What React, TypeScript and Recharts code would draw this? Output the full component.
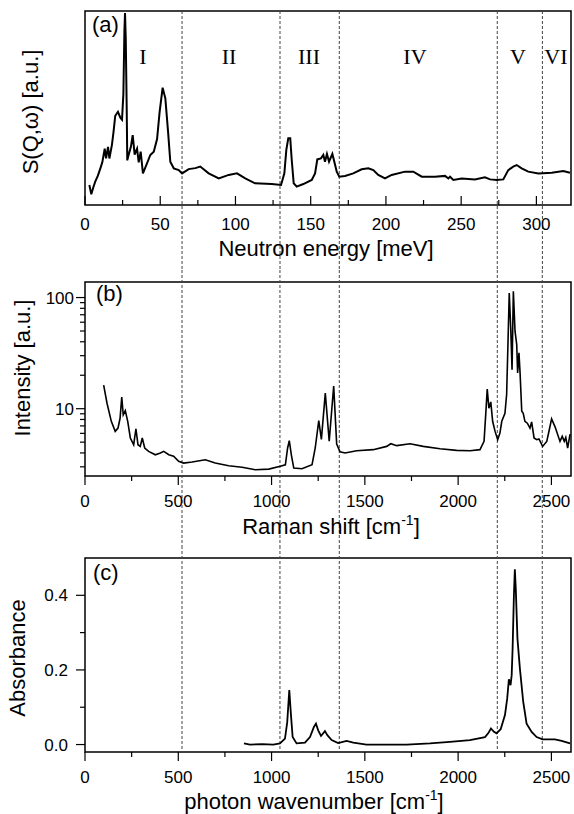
import React from 'react';
import { LineChart, Line, XAxis, YAxis, ReferenceLine, ReferenceArea } from 'recharts';

const SANS = '"Liberation Sans", Arial, sans-serif';
const SERIF = '"Liberation Serif", "Times New Roman", serif';

// (a) neutron spectrum, meV vs S(Q,w) in arbitrary units
const NEUTRON_MEV = [
  2.9, 4.2, 5.5, 6.8, 8.5, 10.2, 11.5, 13.1, 14.0, 15.3, 16.2, 17.9, 19, 20.1, 21.9, 23.5, 24.6, 25.5,
  26.2, 26.6, 27.1, 27.7, 28.1, 29.4, 30.5, 31.7, 33.0, 34.6, 35.7, 37.0, 38.5, 41.2, 43.4, 45.7, 47.9,
  49.6, 51.6, 53.4, 55.2, 56.7, 59.0, 62.3, 64.5, 68.9, 73.3, 76.6, 82.2, 88.9, 95.5, 101, 106.5, 113,
  124.1, 130.3, 132.5, 133.8, 135.1, 136.4, 137.4, 138.7, 140.7, 145.1, 150.7, 152.9, 154.4, 156.8,
  158.4, 159.5, 160.8, 162.2, 164.4, 165.7, 167.3, 169, 172.8, 178.3, 183.9, 188.3, 191.6, 194.9,
  199.4, 203.8, 212.7, 218.2, 223.8, 232.6, 239.3, 241.5, 242.6, 244.8, 250.4, 259.2, 265.8, 269.2,
  273.6, 278, 281.3, 284.6, 286.9, 290.2, 294.6, 301.3, 310.2, 317.9, 322.3,
];
const NEUTRON_S = [
  10.3, 5.5, 9, 12, 15, 18.9, 22, 29, 24, 30, 24, 31, 38, 46, 48, 45, 44, 57,
  90, 99, 85, 51, 23, 27, 30, 36, 26, 29, 22, 27.5, 16.3, 21.5, 25.8, 27.5, 34,
  48, 60.5, 55, 37.8, 22.3, 18.9, 18, 16.3, 18.5, 19, 19.8, 16.3, 13.7, 15.5, 16.3, 13.7, 11.2,
  10.8, 10.3, 16.3, 28.4, 34.4, 34.4, 23.2, 11.2, 9.5, 10.8, 12.9, 16.3, 23.5, 24,
  25.8, 22.3, 26.3, 22.3, 26.3, 22.3, 17.2, 14.6, 15, 16.3, 18.4, 18.9, 18, 15.5,
  13.7, 15.5, 17.2, 17.2, 14.6, 14.6, 15, 13.7, 14.6, 12.9, 13.7, 13.2, 14.3, 13.2,
  12.9, 13.2, 18, 19.8, 20.6, 18.9, 17.2, 16.3, 16.6, 17.5, 16.6,
];

// (b) Raman spectrum, cm-1 vs intensity (log)
const RAMAN_CM = [
  100, 118, 141, 162, 177, 188, 197, 205, 216, 229, 243, 261, 273, 284, 296, 307, 320, 341, 377, 404,
  422, 449, 475, 502, 529, 574, 645, 698, 770, 842, 913, 985, 1047, 1074, 1086, 1095, 1106, 1119, 1163,
  1217, 1234, 1253, 1267, 1288, 1309, 1333, 1349, 1367, 1394, 1456, 1545, 1617, 1639, 1671, 1742, 1813,
  1903, 1992, 2064, 2117, 2139, 2149, 2156, 2165, 2175, 2185, 2198, 2212, 2224, 2234, 2251, 2260, 2267,
  2274, 2282, 2289, 2296, 2305, 2314, 2319, 2326, 2332, 2341, 2349, 2358, 2371, 2385, 2394, 2407, 2421,
  2433, 2453, 2475, 2489, 2501, 2519, 2546, 2558, 2569, 2577, 2587, 2600,
];
const RAMAN_I = [
  16.3, 11.2, 7.7, 6.25, 6.7, 8.2, 12.7, 8.8, 9.6, 7.7, 5.45, 4.74, 6.6, 4.74, 4.58, 5.45, 4.43, 4.13, 3.85, 3.99,
  4.13, 3.85, 3.73, 3.36, 3.24, 3.31, 3.47, 3.24, 3.07, 2.97, 2.82, 2.86, 3.03, 3.13, 4.43, 5.15, 3.85, 2.92, 2.88,
  3.13, 4.43, 7.8, 5.3, 13.8, 5.1, 16, 4.8, 4.1, 3.99, 4.19, 4.28, 4.58, 4.84, 4.65, 4.84, 4.58,
  4.36, 4.22, 4.19, 4.28, 5.08, 9.5, 15, 10.1, 11.5, 7.7, 6.25, 5.26, 6.04, 7.7, 9.1, 13.4, 37.8,
  110, 53, 22.4, 114, 49.8, 37.8, 21, 31.8, 21, 9.5, 9.1, 7.7, 7.4, 6.7, 7.6, 5.45, 5.26,
  5.34, 4.58, 5.08, 6.5, 8.1, 6.9, 5.08, 5.64, 5.08, 5.5, 4.43, 5.9,
];

// (c) IR absorbance
const IR_CM = [
  852, 884, 950, 1009, 1045, 1072, 1084, 1095, 1104, 1113, 1134, 1179, 1206, 1227, 1238, 1250, 1265, 1286,
  1299, 1322, 1357, 1402, 1438, 1509, 1724, 1849, 1956, 2063, 2144, 2161, 2176, 2192, 2206, 2228, 2251,
  2263, 2272, 2281, 2287, 2292, 2299, 2304, 2309, 2318, 2331, 2349, 2367, 2394, 2421, 2453, 2519, 2555, 2600,
];
const IR_ABS = [
  0.003, 0.0, 0.001, 0.0, 0.003, 0.016, 0.06, 0.146, 0.079, 0.02, 0.003, 0.005, 0.02, 0.047, 0.056, 0.038, 0.023, 0.036,
  0.025, 0.012, 0.004, 0.01, 0.005, 0.0, 0.0, 0.003, 0.007, 0.012, 0.02, 0.03, 0.043, 0.034, 0.03, 0.041, 0.079,
  0.123, 0.175, 0.159, 0.186, 0.257, 0.4, 0.47, 0.418, 0.284, 0.204, 0.114, 0.056, 0.034, 0.02, 0.014, 0.014, 0.01, 0.003,
];

// region boundaries and labels
const BOUNDARIES_MEV = [64.5, 129.6, 169, 274, 304];
const BOUNDARIES_CM = [520, 1045, 1363, 2210, 2451];
const REGION_NAMES = ['I', 'II', 'III', 'IV', 'V', 'VI'];
const REGION_POS_MEV = [38.5, 95.7, 148.9, 219.3, 287.8, 313];

// axes
const MEV_DOMAIN = [0, 323];
const CM_DOMAIN = [0, 2605];
const MEV_TICKS = [0, 25, 50, 75, 100, 125, 150, 175, 200, 225, 250, 275, 300];
const MEV_MAJOR = [0, 50, 100, 150, 200, 250, 300];
const CM_TICKS = [0, 250, 500, 750, 1000, 1250, 1500, 1750, 2000, 2250, 2500];
const CM_MAJOR = [0, 500, 1000, 1500, 2000, 2500];
const RAMAN_DOMAIN = [2.48, 138];
const RAMAN_TICKS = [3, 4, 5, 6, 7, 8, 9, 10, 20, 30, 40, 50, 60, 70, 80, 90, 100];
const RAMAN_MAJOR = [10, 100];
const IR_DOMAIN = [-0.02, 0.5];
const IR_TICKS = [0, 0.1, 0.2, 0.3, 0.4];
const IR_MAJOR = [0, 0.2, 0.4];

const zip = (xs: number[], ys: number[]) => xs.map((x, i) => ({ x, y: ys[i] }));
const neutronData = zip(NEUTRON_MEV, NEUTRON_S);
const ramanData = zip(RAMAN_CM, RAMAN_I);
const irData = zip(IR_CM, IR_ABS);

// tick drawn by hand: sign 1 = line goes down, -1 = up
const XTick = (props: any) => {
  const { x, y, payload, majors, sign, labelDy } = props;
  const major = majors.includes(payload.value);
  const len = major ? 9 : 5;
  return (
    <g>
      <line x1={x} x2={x} y1={y} y2={y + sign * len} stroke="#000" strokeWidth={1.2} />
      {labelDy != null && major && (
        <text x={x} y={y + labelDy} textAnchor="middle" fontFamily={SANS} fontSize={17} fill="#000">
          {payload.value}
        </text>
      )}
    </g>
  );
};

const YTick = (props: any) => {
  const { x, y, payload, majors, labelDx, fmt } = props;
  const major = majors.includes(payload.value);
  const len = major ? 9 : 5;
  return (
    <g>
      <line x1={x} x2={x - len} y1={y} y2={y} stroke="#000" strokeWidth={1.2} />
      {major && (
        <text x={x - labelDx} y={y + 6} textAnchor="end" fontFamily={SANS} fontSize={17} fill="#000">
          {fmt ? fmt(payload.value) : payload.value}
        </text>
      )}
    </g>
  );
};

const XTitle = (props: any) => {
  const { viewBox, cxAbs, base, txt, sup } = props;
  return (
    <text x={cxAbs} y={viewBox.y + base} textAnchor="middle" fontFamily={SANS} fontSize={22} fill="#000">
      {txt}
      {sup && (
        <>
          <tspan dy={-9} fontSize={14}>{sup}</tspan>
          <tspan dy={9}>]</tspan>
        </>
      )}
    </text>
  );
};

const YTitle = (props: any) => {
  const { viewBox, xBase, shiftY, txt } = props;
  const cy = viewBox.y + viewBox.height / 2 + shiftY;
  return (
    <text x={xBase} y={cy} transform={`rotate(-90, ${xBase}, ${cy})`} textAnchor="middle" fontFamily={SANS} fontSize={22} fill="#000">
      {txt}
    </text>
  );
};

const PanelTag = (props: any) => {
  const { viewBox, tag, tx0, ty0 } = props;
  return (
    <text x={viewBox.x + tx0} y={viewBox.y + ty0} fontFamily={SANS} fontSize={22} fill="#000">
      {tag}
    </text>
  );
};

// dashed region boundary, stretched past the plot so it runs through all panels
const dashShape = (up: number, down: number) => (p: any) => {
  const top = Math.min(p.y1, p.y2) - up;
  const bottom = Math.max(p.y1, p.y2) + down;
  return <line x1={p.x1} x2={p.x1} y1={top} y2={bottom} stroke="#444" strokeWidth={1} strokeDasharray="3 2" />;
};

const W = 574;

export default function App() {
  return (
    <div style={{ position: 'absolute', left: 0, top: 0, width: W, height: 814, background: '#fff' }}>
      {/* (a) neutron */}
      <LineChart width={W} height={270} data={neutronData} margin={{ top: 11, right: 3, bottom: 0, left: 0 }}>
        <XAxis xAxisId="top" orientation="top" type="number" dataKey="x" domain={MEV_DOMAIN} allowDataOverflow
          ticks={MEV_TICKS} interval={0} height={0} axisLine={false} tickLine={false} tickSize={0} tickMargin={0}
          tick={<XTick majors={MEV_MAJOR} sign={1} />} />
        <XAxis type="number" dataKey="x" domain={MEV_DOMAIN} allowDataOverflow
          ticks={MEV_TICKS} interval={0} height={65} axisLine={false} tickLine={false} tickSize={0} tickMargin={0}
          tick={<XTick majors={MEV_MAJOR} sign={-1} labelDy={25} />}
          label={<XTitle cxAbs={326} base={51} txt="Neutron energy [meV]" />} />
        <YAxis type="number" domain={[0, 100]} allowDataOverflow width={85} axisLine={false} tickLine={false} tick={false}
          label={<YTitle xBase={37.7} shiftY={4} txt="S(Q,ω) [a.u.]" />} />
        <ReferenceArea x1={MEV_DOMAIN[0]} x2={MEV_DOMAIN[1]} y1={0} y2={100} fill="none" stroke="#000" strokeWidth={1.5}
          ifOverflow="visible" label={<PanelTag tag="(a)" tx0={7} ty0={21} />} />
        {BOUNDARIES_MEV.map((b) => (
          <ReferenceLine key={b} x={b} shape={dashShape(0, 65)} />
        ))}
        {REGION_POS_MEV.map((p, i) => (
          <ReferenceLine key={'r' + i} x={p} stroke="none"
            label={{ value: REGION_NAMES[i], position: 'insideTop', offset: 37, fontFamily: SERIF, fontSize: 22, fill: '#000' }} />
        ))}
        <Line dataKey="y" type="linear" stroke="#000" strokeWidth={2} dot={false} isAnimationActive={false} />
      </LineChart>

      {/* (b) Raman */}
      <LineChart width={W} height={276} data={ramanData} margin={{ top: 12, right: 3, bottom: 0, left: 0 }}>
        <XAxis xAxisId="top" orientation="top" type="number" dataKey="x" domain={CM_DOMAIN} allowDataOverflow
          ticks={CM_TICKS} interval={0} height={0} axisLine={false} tickLine={false} tickSize={0} tickMargin={0}
          tick={<XTick majors={CM_MAJOR} sign={-1} />} />
        <XAxis type="number" dataKey="x" domain={CM_DOMAIN} allowDataOverflow
          ticks={CM_TICKS} interval={0} height={70} axisLine={false} tickLine={false} tickSize={0} tickMargin={0}
          tick={<XTick majors={CM_MAJOR} sign={1} labelDy={31} />}
          label={<XTitle cxAbs={331} base={58} txt="Raman shift [cm" sup="-1" />} />
        <YAxis type="number" scale="log" domain={RAMAN_DOMAIN} allowDataOverflow width={85} axisLine={false}
          ticks={RAMAN_TICKS} interval={0} tickLine={false} tickSize={0} tickMargin={0}
          tick={<YTick majors={RAMAN_MAJOR} labelDx={11} />}
          label={<YTitle xBase={30} shiftY={-11} txt="Intensity [a.u.]" />} />
        <ReferenceArea x1={CM_DOMAIN[0]} x2={CM_DOMAIN[1]} y1={RAMAN_DOMAIN[0]} y2={RAMAN_DOMAIN[1]} fill="none" stroke="#000"
          strokeWidth={1.5} ifOverflow="visible" label={<PanelTag tag="(b)" tx0={11} ty0={19} />} />
        {BOUNDARIES_CM.map((b) => (
          <ReferenceLine key={b} x={b} shape={dashShape(12, 70)} />
        ))}
        <Line dataKey="y" type="linear" stroke="#000" strokeWidth={1.6} dot={false} isAnimationActive={false} />
      </LineChart>

      {/* (c) IR */}
      <LineChart width={W} height={268} data={irData} margin={{ top: 12, right: 3, bottom: 0, left: 0 }}>
        <XAxis type="number" dataKey="x" domain={CM_DOMAIN} allowDataOverflow
          ticks={CM_TICKS} interval={0} height={62} axisLine={false} tickLine={false} tickSize={0} tickMargin={0}
          tick={<XTick majors={CM_MAJOR} sign={1} labelDy={31} />}
          label={<XTitle cxAbs={314} base={57} txt="photon wavenumber [cm" sup="-1" />} />
        <YAxis type="number" domain={IR_DOMAIN} allowDataOverflow width={85} axisLine={false}
          ticks={IR_TICKS} interval={0} tickLine={false} tickSize={0} tickMargin={0}
          tick={<YTick majors={IR_MAJOR} labelDx={17} fmt={(v: number) => v.toFixed(1)} />}
          label={<YTitle xBase={25} shiftY={3} txt="Absorbance" />} />
        <ReferenceArea x1={CM_DOMAIN[0]} x2={CM_DOMAIN[1]} y1={IR_DOMAIN[0]} y2={IR_DOMAIN[1]} fill="none" stroke="#000"
          strokeWidth={1.5} ifOverflow="visible" label={<PanelTag tag="(c)" tx0={8} ty0={22} />} />
        {BOUNDARIES_CM.map((b) => (
          <ReferenceLine key={b} x={b} shape={dashShape(12, 0)} />
        ))}
        <Line dataKey="y" type="linear" stroke="#000" strokeWidth={1.8} dot={false} isAnimationActive={false} />
      </LineChart>
    </div>
  );
}
